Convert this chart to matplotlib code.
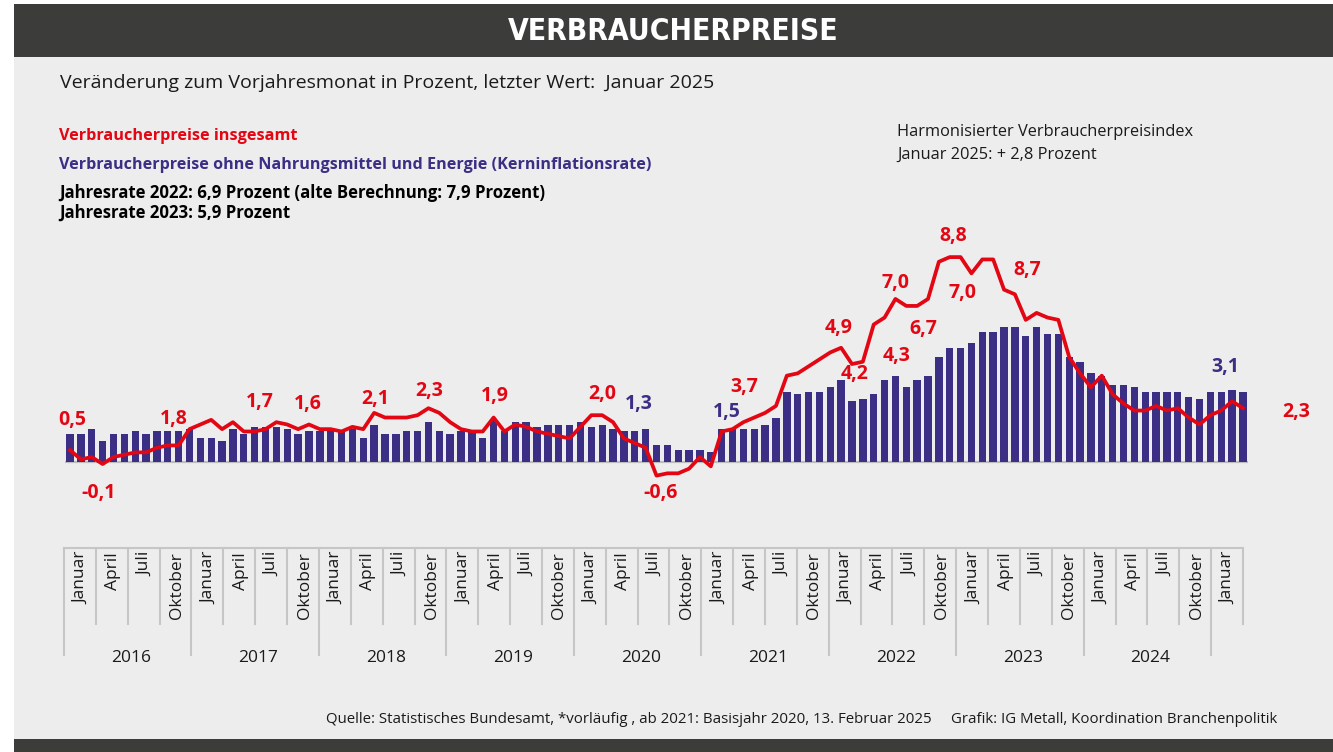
import matplotlib
matplotlib.use("Agg")
import matplotlib.pyplot as plt
from matplotlib.patches import Rectangle
import matplotlib.font_manager as fm
from matplotlib.font_manager import FontProperties

# ---------------- data ----------------
years = ["2016", "2017", "2018", "2019", "2020", "2021", "2022", "2023", "2024"]
quarter_months = ["Januar", "April", "Juli", "Oktober"]

# Verbraucherpreise insgesamt (Jan 2016 - Jan 2025), % ggü. Vorjahresmonat
cpi_total = [
    0.5, 0.1, 0.2, -0.1, 0.2, 0.3, 0.4, 0.4, 0.6, 0.7, 0.7, 1.4,      # 2016
    1.6, 1.8, 1.4, 1.7, 1.3, 1.3, 1.4, 1.7, 1.6, 1.4, 1.6, 1.4,       # 2017
    1.4, 1.3, 1.5, 1.4, 2.1, 1.9, 1.9, 1.9, 2.0, 2.3, 2.1, 1.7,       # 2018
    1.4, 1.3, 1.3, 1.9, 1.3, 1.6, 1.5, 1.3, 1.2, 1.1, 1.0, 1.5,       # 2019
    2.0, 2.0, 1.7, 1.0, 0.8, 0.6, -0.6, -0.5, -0.5, -0.3, 0.2, -0.2,  # 2020
    1.3, 1.4, 1.7, 1.9, 2.1, 2.4, 3.7, 3.8, 4.1, 4.4, 4.7, 4.9,       # 2021
    4.2, 4.3, 5.9, 6.2, 7.0, 6.7, 6.7, 7.0, 8.6, 8.8, 8.8, 8.1,       # 2022
    8.7, 8.7, 7.4, 7.2, 6.1, 6.4, 6.2, 6.1, 4.5, 3.8, 3.2, 3.7,       # 2023
    2.9, 2.5, 2.2, 2.2, 2.4, 2.2, 2.3, 1.9, 1.6, 2.0, 2.2, 2.6,       # 2024
    2.3,                                                             # 2025
]

# Kerninflationsrate (ohne Nahrungsmittel und Energie)
cpi_core = [
    1.2, 1.2, 1.4, 0.9, 1.2, 1.2, 1.3, 1.2, 1.3, 1.3, 1.3, 1.4,       # 2016
    1.0, 1.0, 0.9, 1.4, 1.2, 1.5, 1.5, 1.5, 1.4, 1.2, 1.3, 1.3,       # 2017
    1.3, 1.3, 1.4, 1.0, 1.6, 1.2, 1.2, 1.3, 1.3, 1.7, 1.3, 1.2,       # 2018
    1.3, 1.3, 1.0, 1.8, 1.3, 1.7, 1.7, 1.5, 1.6, 1.6, 1.6, 1.7,       # 2019
    1.5, 1.6, 1.4, 1.3, 1.3, 1.4, 0.7, 0.7, 0.5, 0.5, 0.5, 0.4,       # 2020
    1.4, 1.4, 1.4, 1.4, 1.6, 1.9, 3.0, 2.9, 3.0, 3.0, 3.2, 3.5,       # 2021
    2.6, 2.7, 2.9, 3.5, 3.7, 3.2, 3.5, 3.7, 4.5, 4.9, 4.9, 5.1,       # 2022
    5.6, 5.6, 5.8, 5.8, 5.4, 5.8, 5.5, 5.5, 4.5, 4.3, 3.8, 3.7,       # 2023
    3.3, 3.3, 3.2, 3.0, 3.0, 3.0, 3.0, 2.8, 2.7, 3.0, 3.0, 3.1,       # 2024
    3.0,                                                             # 2025
]

# value labels: (series, month index, text, dx px, dy px)
red_labels = [
    ("total", 0, "0,5", 2, 30), ("total", 3, "-0,1", -4, -29),
    ("total", 10, "1,8", -5, 26), ("total", 17, "1,7", 5, 29),
    ("total", 22, "1,6", -1, 20), ("total", 28, "2,1", 1, 14),
    ("total", 33, "2,3", 1, 17), ("total", 39, "1,9", 1, 22),
    ("total", 49, "2,0", 0, 21), ("total", 54, "-0,6", 4, -17),
    ("total", 62, "3,7", 1, 35), ("total", 71, "4,9", -3, 20),
    ("total", 72, "4,2", 3, -10), ("total", 76, "7,0", 0, 16),
    ("core", 76, "4,3", 1, 20), ("total", 78, "6,7", 6, -23),
    ("total", 81, "8,8", 3, 21), ("total", 82, "7,0", 2, -36),
    ("total", 84, "8,7", 45, -11), ("total", 108, "2,3", 53, -4),
]
purple_labels = [
    ("core", 52, "1,3", 4, 27), ("core", 60, "1,5", 5, 17),
    ("core", 107, "3,1", -7, 23),
]

# ---------------- style ----------------
W, H = 1333, 752
PANEL = "#ededed"
DARK = "#3c3c3b"
RED = "#e30613"
PURPLE = "#3a2e85"
GRID = "#c6c6c6"
TXT = "#1a1a1a"
FONT = "Open Sans"

fig = plt.figure(figsize=(W / 100, H / 100), dpi=100)
fig.patch.set_facecolor("white")


def fy(py):
    return 1 - py / H


# background axes in pixel coordinates
bg = fig.add_axes([0, 0, 1, 1], zorder=0)
bg.set_xlim(0, W)
bg.set_ylim(H, 0)
bg.axis("off")
bg.add_patch(Rectangle((14, 4), W - 14, H - 4, color=PANEL, lw=0))
bg.add_patch(Rectangle((14, 4), W - 14, 53, color=DARK, lw=0))
bg.add_patch(Rectangle((14, 739), W - 14, 13, color=DARK, lw=0))

# title font (condensed bold if available)
cond = [f.fname for f in fm.fontManager.ttflist
        if "DejaVuSansCondensed-Bold.ttf" in f.fname]
if cond:
    title_fp = FontProperties(fname=cond[0], size=21.5)
else:
    title_fp = FontProperties(family="DejaVu Sans", weight="bold", size=19.5)
bg.text(673, 39.5, "VERBRAUCHERPREISE", color="white", ha="center",
        va="baseline", fontproperties=title_fp)

bg.text(60, 88, "Veränderung zum Vorjahresmonat in Prozent, letzter Wert:  Januar 2025",
        family=FONT, fontsize=14, color=TXT, va="baseline")
bg.text(59, 140, "Verbraucherpreise insgesamt", family=FONT, fontsize=11.7,
        weight="bold", color=RED, va="baseline")
bg.text(59, 169, "Verbraucherpreise ohne Nahrungsmittel und Energie (Kerninflationsrate)",
        family=FONT, fontsize=11.6, weight="bold", color=PURPLE, va="baseline")
bg.text(59, 198, "Jahresrate 2022: 6,9 Prozent (alte Berechnung: 7,9 Prozent)",
        family=FONT, fontsize=12.1, weight="bold", color="black", va="baseline")
bg.text(59, 218, "Jahresrate 2023: 5,9 Prozent",
        family=FONT, fontsize=12.1, weight="bold", color="black", va="baseline")
bg.text(897, 136, "Harmonisierter Verbraucherpreisindex", family=FONT,
        fontsize=11.8, color=TXT, va="baseline")
bg.text(897, 159, "Januar 2025: + 2,8 Prozent", family=FONT,
        fontsize=11.8, color=TXT, va="baseline")
bg.text(1277, 723,
        "Quelle: Statistisches Bundesamt, *vorläufig , ab 2021: Basisjahr 2020, 13. Februar 2025     "
        "Grafik: IG Metall, Koordination Branchenpolitik",
        family=FONT, fontsize=10.8, color=TXT, ha="right", va="baseline")

# ---------------- main chart ----------------
ZERO_PX, UNIT_PX = 461.7, 23.25
TOP_PX, BOT_PX = 225, 540
LEFT_PX, RIGHT_PX = 64.6, 1248.4
ax = fig.add_axes([LEFT_PX / W, fy(BOT_PX), (RIGHT_PX - LEFT_PX) / W,
                   (BOT_PX - TOP_PX) / H], zorder=2)
ax.patch.set_alpha(0)
n = len(cpi_total)
xs = list(range(n))
ax.set_xlim(-0.5, n - 0.5)
ax.set_ylim(-(BOT_PX - ZERO_PX) / UNIT_PX, (ZERO_PX - TOP_PX) / UNIT_PX)
ax.axis("off")

ax.axhline(0, color="#bdbdbd", lw=1.6, zorder=1)
ax.bar(xs, cpi_core, width=0.68, color=PURPLE, zorder=2)
ax.plot(xs, cpi_total, color=RED, lw=2.7, zorder=3, solid_joinstyle="round")

series = {"total": cpi_total, "core": cpi_core}
for lst, col in ((red_labels, RED), (purple_labels, PURPLE)):
    for s, i, txt, dx, dy in lst:
        ax.annotate(txt, xy=(i, series[s][i]), xytext=(dx, dy),
                    textcoords="offset pixels", ha="center", va="center",
                    family=FONT, weight="bold", fontsize=14, color=col,
                    zorder=4, annotation_clip=False)

# ---------------- category table ----------------
T_LEFT, T_RIGHT, T_TOP, T_BOT = 64, 1243, 545, 700
tx = fig.add_axes([T_LEFT / W, fy(T_BOT), (T_RIGHT - T_LEFT) / W,
                   (T_BOT - T_TOP) / H], zorder=1)
tx.patch.set_alpha(0)
ncells = len(years) * 4 + 1
tx.set_xlim(0, ncells)
tx.set_ylim(T_BOT, T_TOP)
tx.axis("off")
tx.plot([0, ncells], [548, 548], color=GRID, lw=1.5, clip_on=False)
for c in range(ncells + 1):
    y_end = 655 if (c % 4 == 0 and c < ncells) else 624
    tx.plot([c, c], [548, y_end], color=GRID, lw=1.5, clip_on=False)
for c in range(ncells):
    tx.text(c + 0.55, 552, quarter_months[c % 4], rotation=90, ha="center",
            va="top", family=FONT, fontsize=12.5, color=TXT)
for k, yr in enumerate(years):
    tx.text(4 * k + 2.1, 658, yr, ha="center", va="center", family=FONT,
            fontsize=12.5, color=TXT)

fig.savefig("out.png", dpi=100, facecolor=fig.get_facecolor())
